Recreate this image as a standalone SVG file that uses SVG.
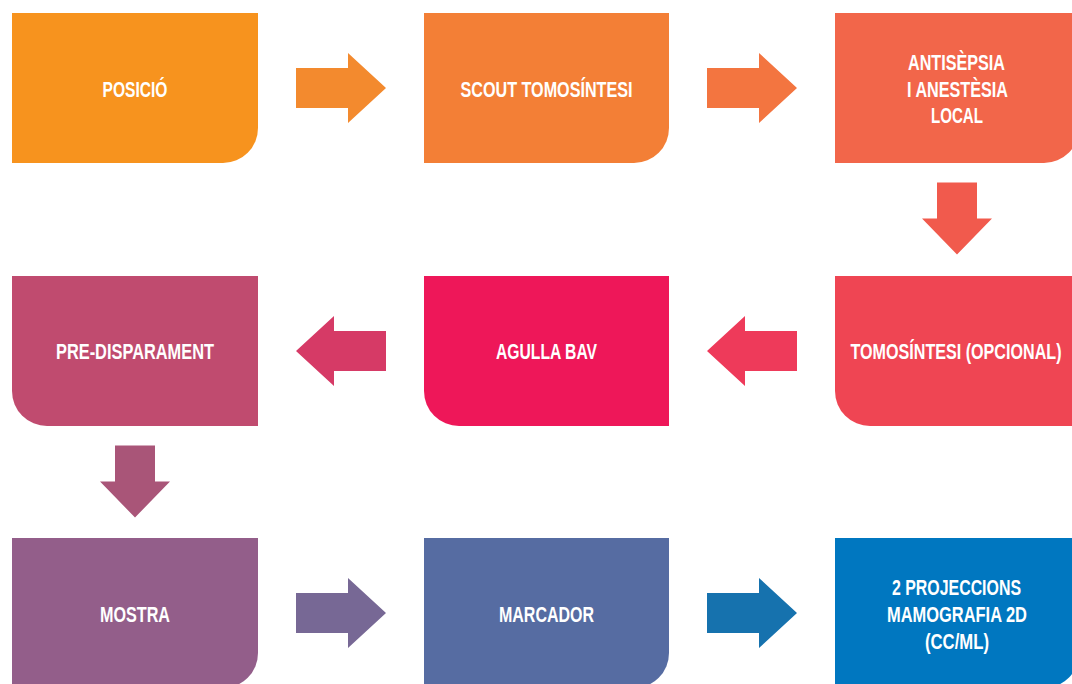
<svg xmlns="http://www.w3.org/2000/svg" xmlns:xlink="http://www.w3.org/1999/xlink" width="1072" height="684" viewBox="0 0 1072 684">
<style>
.lbl{font-family:"Liberation Sans",Arial,sans-serif;font-weight:bold;font-size:22px;fill:#ffffff;text-anchor:middle}
</style>
<defs>
<path id="ah" d="M-45,-20 H7 V-35 L45,0 L7,35 V20 H-45 Z"/>
<path id="av" d="M-20,-36 H20 V0 H35 L0,36 L-35,0 H-20 Z"/>
</defs>
<rect width="1072" height="684" fill="#ffffff"/>
<g id="connectors">
<use xlink:href="#ah" transform="translate(341,88)" fill="#F38A2E"/>
<use xlink:href="#ah" transform="translate(752,88)" fill="#F37540"/>
<use xlink:href="#av" transform="translate(957,218.5)" fill="#F15A4D"/>
<use xlink:href="#ah" transform="translate(752,351) rotate(180)" fill="#EE3A5A"/>
<use xlink:href="#ah" transform="translate(341,351) rotate(180)" fill="#D63A66"/>
<use xlink:href="#av" transform="translate(135,481.5)" fill="#A95578"/>
<use xlink:href="#ah" transform="translate(341,613)" fill="#776895"/>
<use xlink:href="#ah" transform="translate(752,613)" fill="#1672AE"/>
</g>
<g id="n1"><path d="M12,13 H258 V128 A35,35 0 0 1 223,163 H12 Z" fill="#F7931E"/><text class="lbl" x="135" y="96.5" textLength="65" lengthAdjust="spacingAndGlyphs">POSICIÓ</text></g>
<g id="n2"><path d="M424,13 H669 V128 A35,35 0 0 1 634,163 H424 Z" fill="#F37F36"/><text class="lbl" x="546.5" y="96.5" textLength="172" lengthAdjust="spacingAndGlyphs">SCOUT TOMOSÍNTESI</text></g>
<g id="n3"><path d="M835,13 H1079 V128 A35,35 0 0 1 1044,163 H835 Z" fill="#F2664A"/><text class="lbl" x="956.5" y="70" textLength="97" lengthAdjust="spacingAndGlyphs">ANTISÈPSIA</text><text class="lbl" x="957.5" y="97" textLength="101" lengthAdjust="spacingAndGlyphs">I ANESTÈSIA</text><text class="lbl" x="957" y="123" textLength="52" lengthAdjust="spacingAndGlyphs">LOCAL</text></g>
<g id="n4"><path d="M835,276 H1079 V426 H870 A35,35 0 0 1 835,391 Z" fill="#EF4553"/><text class="lbl" x="956" y="359" textLength="211" lengthAdjust="spacingAndGlyphs">TOMOSÍNTESI (OPCIONAL)</text></g>
<g id="n5"><path d="M424,276 H669 V426 H459 A35,35 0 0 1 424,391 Z" fill="#EE1759"/><text class="lbl" x="546.5" y="359" textLength="101" lengthAdjust="spacingAndGlyphs">AGULLA BAV</text></g>
<g id="n6"><path d="M12,276 H258 V426 H47 A35,35 0 0 1 12,391 Z" fill="#C04B6F"/><text class="lbl" x="135" y="359" textLength="158" lengthAdjust="spacingAndGlyphs">PRE-DISPARAMENT</text></g>
<g id="n7"><path d="M12,538 H258 V653 A35,35 0 0 1 223,688 H12 Z" fill="#935E8A"/><text class="lbl" x="135" y="621.5" textLength="70" lengthAdjust="spacingAndGlyphs">MOSTRA</text></g>
<g id="n8"><path d="M424,538 H669 V653 A35,35 0 0 1 634,688 H424 Z" fill="#566CA2"/><text class="lbl" x="546.5" y="621.5" textLength="95" lengthAdjust="spacingAndGlyphs">MARCADOR</text></g>
<g id="n9"><path d="M835,538 H1079 V653 A35,35 0 0 1 1044,688 H835 Z" fill="#0077C0"/><text class="lbl" x="956.5" y="595" textLength="129" lengthAdjust="spacingAndGlyphs">2 PROJECCIONS</text><text class="lbl" x="957" y="622" textLength="140" lengthAdjust="spacingAndGlyphs">MAMOGRAFIA 2D</text><text class="lbl" x="957" y="649" textLength="64" lengthAdjust="spacingAndGlyphs">(CC/ML)</text></g>
</svg>
